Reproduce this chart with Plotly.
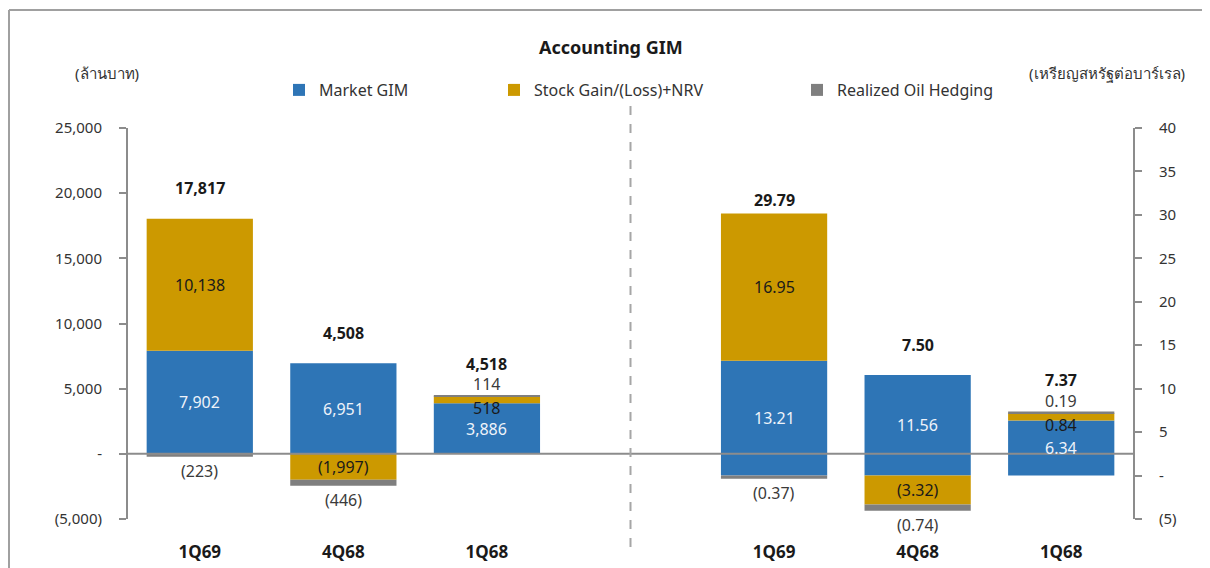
import plotly.graph_objects as go

# ---------------- data ----------------
categories = ["1Q69", "4Q68", "1Q68"]
series_names = ["Market GIM", "Stock Gain/(Loss)+NRV", "Realized Oil Hedging"]

# left panel: million baht
market_mb = [7902, 6951, 3886]
stock_mb = [10138, -1997, 518]
hedge_mb = [-223, -446, 114]

# right panel: USD / bbl
market_usd = [13.21, 11.56, 6.34]
stock_usd = [16.95, -3.32, 0.84]
hedge_usd = [-0.37, -0.74, 0.19]

left_ticks = [-5000, 0, 5000, 10000, 15000, 20000, 25000]
right_ticks = [-5, 0, 5, 10, 15, 20, 25, 30, 35, 40]

title_text = "Accounting GIM"
left_unit = "(ล้านบาท)"
right_unit = "(เหรียญสหรัฐต่อบาร์เรล)"

# ---------------- style ----------------
colors = ["#2E75B6", "#CC9900", "#7F7F7F"]
FONT = "Noto Sans, Open Sans, sans-serif"
TXT = "#333333"
AXC = "#8C8C8C"
W, H = 1210, 568
OFF = 8  # page body margin
# plot box in screen pixels
PL, PR, PT, PB = 128, 1133, 128, 519
ML, MR, MT = PL - OFF, W - (PR - OFF), PT - OFF
MB = H - (PB - OFF)
plot_h = PB - PT
pw = PR - PL
left_range = [-5000, 25000]
right_range = [-5, 40]
total_shift = [[18, 17, 18], [1, 17, 19]]


def px_x(sx):
    return (sx - PL) / pw


def px_y(sy):
    return (PB - sy) / plot_h


def fmt_mb(v):
    s = f"{abs(v):,.0f}"
    return f"({s})" if v < 0 else s


def fmt_usd(v):
    s = f"{abs(v):.2f}"
    return f"({s})" if v < 0 else s


fig = go.Figure()
panels = [
    dict(vals=[market_mb, stock_mb, hedge_mb], offset=0, yref="y", rng=left_range, fmt=fmt_mb),
    dict(vals=[market_usd, stock_usd, hedge_usd], offset=4, yref="y2", rng=right_range, fmt=fmt_usd),
]
legend_ids = ["legend", "legend2", "legend3"]

annotations = []
for pi, p in enumerate(panels):
    xs = [i + p["offset"] for i in range(len(categories))]
    for si, vals in enumerate(p["vals"]):
        fig.add_trace(go.Bar(
            x=xs, y=vals, name=series_names[si], yaxis=p["yref"],
            marker=dict(color=colors[si], line=dict(width=0)),
            width=0.74, showlegend=(pi == 0), legend=legend_ids[si],
            hoverinfo="x+y+name",
        ))
    scale = plot_h / (p["rng"][1] - p["rng"][0])
    for ci, x in enumerate(xs):
        pos, neg = 0.0, 0.0
        for si, vals in enumerate(p["vals"]):
            v = vals[ci]
            if v >= 0:
                base, top = pos, pos + v
                pos = top
            else:
                base, top = neg, neg + v
                neg = top
            hpx = abs(v) * scale
            if si == 0:
                fcol = "#EEF3FA"
            elif si == 1:
                fcol = "#1A1A1A"
            else:
                fcol = "#3A3A3A"
            a = dict(x=x, xref="x", yref=p["yref"], text=p["fmt"](v), showarrow=False,
                     font=dict(family=FONT, size=16, color=fcol))
            if hpx >= 18:
                a.update(y=(base + top) / 2, yanchor="middle")
            elif si == 2 and v >= 0:
                a.update(y=top, yanchor="bottom", yshift=-2)
            elif si == 2 and v < 0:
                a.update(y=top, yanchor="top", yshift=-1)
            else:
                a.update(y=(base + top) / 2, yanchor="middle", yshift=-8)
            annotations.append(a)
        total = sum(vals[ci] for vals in p["vals"])
        annotations.append(dict(
            x=x, xref="x", y=pos, yref=p["yref"], yanchor="bottom",
            yshift=total_shift[pi][ci], text=f"<b>{p['fmt'](total)}</b>",
            showarrow=False, font=dict(family=FONT, size=16, color="#1A1A1A")))

# titles / units
annotations += [
    dict(text=f"<b>{title_text}</b>", x=px_x(611), y=px_y(47),
         xref="paper", yref="paper", showarrow=False, xanchor="center", yanchor="middle",
         font=dict(family=FONT, size=18, color="#1A1A1A")),
    dict(text=left_unit, x=px_x(107), y=px_y(73),
         xref="paper", yref="paper", showarrow=False, xanchor="center", yanchor="middle",
         font=dict(family=FONT, size=15, color=TXT)),
    dict(text=right_unit, x=px_x(1107), y=px_y(73),
         xref="paper", yref="paper", showarrow=False, xanchor="center", yanchor="middle",
         font=dict(family=FONT, size=15, color=TXT)),
]

shapes = [
    # zero line
    dict(type="line", xref="paper", x0=0, x1=1, yref="y", y0=0, y1=0,
         line=dict(color=AXC, width=2), layer="above"),
    # divider
    dict(type="line", xref="x", x0=3, x1=3, yref="paper",
         y0=px_y(547), y1=px_y(103),
         line=dict(color="#A6A6A6", width=2, dash="dash")),
    # outer frame (top + left)
    dict(type="line", xref="paper", yref="paper", x0=px_x(9), x1=px_x(1225),
         y0=px_y(10), y1=px_y(10), line=dict(color="#A0A0A0", width=2)),
    dict(type="line", xref="paper", yref="paper", x0=px_x(9), x1=px_x(9),
         y0=px_y(10), y1=px_y(580), line=dict(color="#A0A0A0", width=2)),
]

leg_common = dict(orientation="h", yanchor="middle", xanchor="left", bgcolor="rgba(0,0,0,0)",
                  font=dict(family=FONT, size=16, color=TXT), y=px_y(90))

fig.update_layout(
    width=W, height=H, margin=dict(l=ML, r=MR, t=MT, b=MB),
    paper_bgcolor="white", plot_bgcolor="white",
    barmode="relative", font=dict(family=FONT, size=15, color=TXT),
    xaxis=dict(range=[-0.5, 6.5], tickvals=[0, 1, 2, 4, 5, 6],
               ticktext=[f"<b>{c}</b>" for c in categories] * 2,
               showline=False, showgrid=False, zeroline=False, ticks="",
               tickfont=dict(family=FONT, size=17, color="#1A1A1A"), ticklabelstandoff=21),
    yaxis=dict(range=left_range, tickvals=left_ticks,
               ticktext=[fmt_mb(v) if v != 0 else "-" for v in left_ticks],
               showgrid=False, zeroline=False, showline=True, linecolor=AXC, linewidth=2,
               ticks="outside", ticklen=7, tickcolor=AXC, tickwidth=2,
               tickfont=dict(family=FONT, size=15, color=TXT), ticklabelstandoff=14),
    yaxis2=dict(range=right_range, tickvals=right_ticks, overlaying="y", side="right",
                ticktext=[fmt_usd(v).replace(".00", "") if v != 0 else "-" for v in right_ticks],
                showgrid=False, zeroline=False, showline=True, linecolor=AXC, linewidth=2,
                ticks="outside", ticklen=7, tickcolor=AXC, tickwidth=2,
                tickfont=dict(family=FONT, size=15, color=TXT), ticklabelstandoff=14),
    legend=dict(leg_common, x=px_x(279)),
    legend2=dict(leg_common, x=px_x(494)),
    legend3=dict(leg_common, x=px_x(797)),
    annotations=annotations, shapes=shapes,
)

fig.write_html("out.html")
